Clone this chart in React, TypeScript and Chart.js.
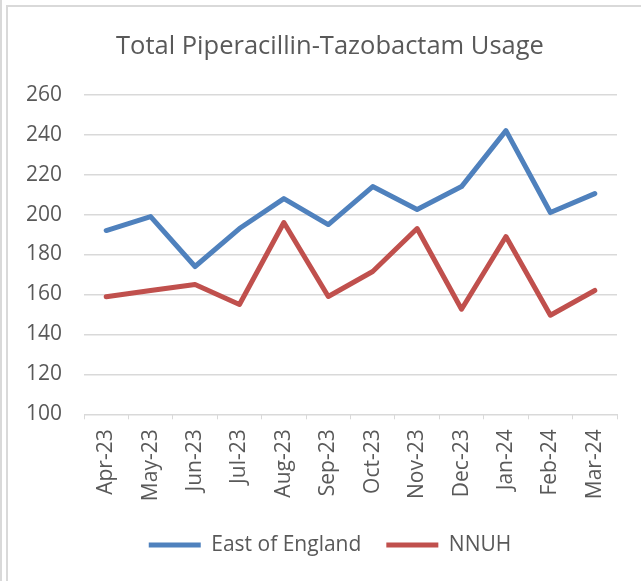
import React, { useEffect, useRef } from "react";
import { Chart, registerables } from "chart.js";

Chart.register(...registerables);

const categories = ["Apr-23", "May-23", "Jun-23", "Jul-23", "Aug-23", "Sep-23", "Oct-23", "Nov-23", "Dec-23", "Jan-24", "Feb-24", "Mar-24"];
const eastOfEngland = [192, 199, 174, 193, 208, 195, 214, 202.5, 214, 242, 201, 210.5];
const nnuh = [158.8, 162, 165, 155, 196, 159, 171.5, 193, 152.6, 189, 149.6, 162];
const seriesNames = ["East of England", "NNUH"];
const seriesColors = ["#4F81BD", "#C0504D"];
const yMin = 100;
const yMax = 260;
const yStep = 20;
const titleText = "Total Piperacillin-Tazobactam Usage";

const FONT = "'Open Sans', sans-serif";
const TEXT = "#595959";
const GRID = "#D9D9D9";

// Shift title and legend horizontally so they are centred like the reference
const shiftPlugin = {
  id: "shiftBlocks",
  afterLayout(chart: any) {
    const dx = 21.5;
    for (const b of [chart.titleBlock, chart.legend]) {
      if (b) {
        b.left += dx;
        b.right += dx;
      }
    }
  },
};

export default function App() {
  const ref = useRef<HTMLCanvasElement>(null);
  useEffect(() => {
    const ctx = ref.current!;
    const chart = new Chart(ctx, {
      type: "line",
      data: {
        labels: categories,
        datasets: [
          { label: seriesNames[0], data: eastOfEngland, borderColor: seriesColors[0], backgroundColor: seriesColors[0], borderWidth: 5, pointRadius: 0, tension: 0, borderJoinStyle: "round", borderCapStyle: "round" },
          { label: seriesNames[1], data: nnuh, borderColor: seriesColors[1], backgroundColor: seriesColors[1], borderWidth: 5, pointRadius: 0, tension: 0, borderJoinStyle: "round", borderCapStyle: "round" },
        ],
      },
      plugins: [shiftPlugin],
      options: {
        animation: false,
        responsive: false,
        layout: { padding: { left: 0, right: 24, top: 0, bottom: 15.5 } },
        plugins: {
          title: {
            display: true,
            text: titleText,
            color: TEXT,
            font: { family: FONT, size: 25.5, weight: "normal" },
            padding: { top: 31, bottom: 33.1 },
          },
          legend: {
            position: "bottom",
            labels: {
              color: TEXT,
              font: { family: FONT, size: 21 },
              boxWidth: 52,
              boxHeight: 5,
              padding: 25,
              generateLabels: (c: any) =>
                c.data.datasets.map((d: any, i: number) => ({
                  text: d.label,
                  fillStyle: d.borderColor,
                  strokeStyle: d.borderColor,
                  lineWidth: 0,
                  fontColor: TEXT,
                  datasetIndex: i,
                  hidden: false,
                })),
            },
          },
          tooltip: { enabled: false },
        },
        scales: {
          x: {
            offset: true,
            grid: { offset: true, drawOnChartArea: false, drawTicks: true, tickLength: 5, color: GRID, lineWidth: 1 },
            border: { display: true, color: GRID, width: 1 },
            ticks: { color: TEXT, font: { family: FONT, size: 21 }, minRotation: 90, maxRotation: 90, padding: 10, autoSkip: false },
            afterFit: (s: any) => { s.height = 95.2; },
          },
          y: {
            min: yMin,
            max: yMax,
            grid: { color: GRID, lineWidth: 1.5, drawTicks: false },
            border: { display: false },
            ticks: { stepSize: yStep, color: TEXT, font: { family: FONT, size: 21 }, padding: 22 },
            afterFit: (s: any) => { s.width = 84; },
          },
        },
      },
    } as any);
    return () => chart.destroy();
  }, []);
  return (
    <div style={{ position: "absolute", left: 0, top: 0, width: 641, height: 581, background: "#fff", overflow: "hidden" }}>
      <div style={{ position: "absolute", left: 0, top: 0, width: 2, height: 581, background: GRID }} />
      <div style={{ position: "absolute", left: 6, top: 5, width: 2, height: 576, background: GRID }} />
      <div style={{ position: "absolute", left: 6, top: 5, width: 635, height: 2, background: GRID }} />
      <canvas ref={ref} width={641} height={581} style={{ position: "absolute", left: 0, top: 0 }} />
    </div>
  );
}
